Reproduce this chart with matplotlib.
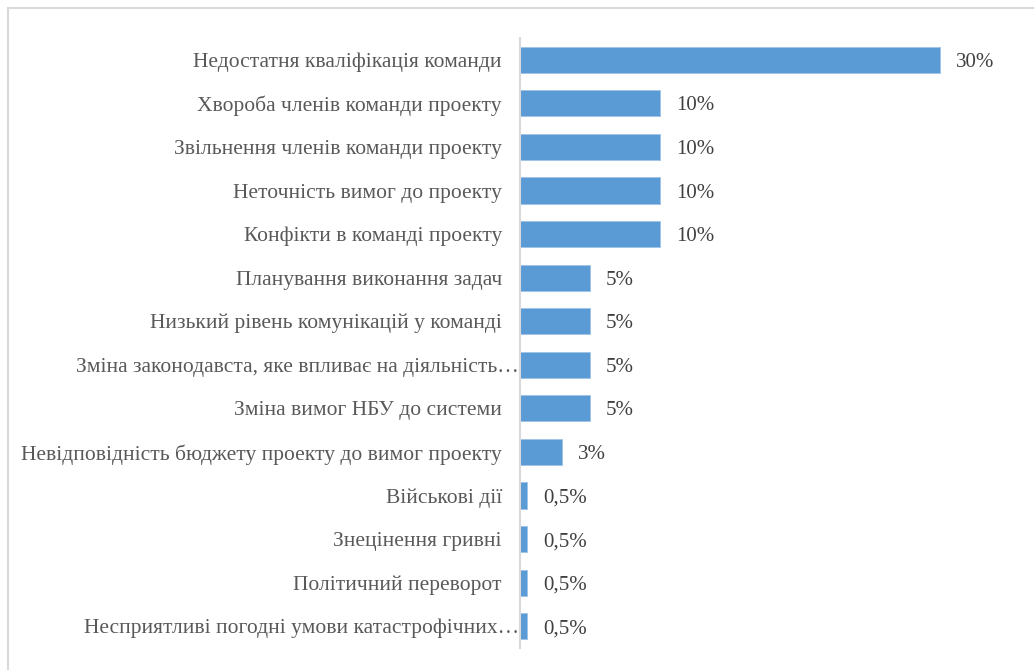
import matplotlib
matplotlib.use("Agg")
import matplotlib.pyplot as plt
from matplotlib.patches import Rectangle
from matplotlib.transforms import ScaledTranslation

categories = [
    "Недостатня кваліфікація команди",
    "Хвороба членів команди проекту",
    "Звільнення членів команди проекту",
    "Неточність вимог до проекту",
    "Конфікти в команді проекту",
    "Планування виконання задач",
    "Низький рівень комунікацій у команді",
    "Зміна законодавста, яке впливає на діяльність…",
    "Зміна вимог НБУ до системи",
    "Невідповідність бюджету проекту до вимог проекту",
    "Військові дії",
    "Знецінення гривні",
    "Політичний переворот",
    "Несприятливі погодні умови катастрофічних…",
]
values = [30, 10, 10, 10, 10, 5, 5, 5, 5, 3, 0.5, 0.5, 0.5, 0.5]
value_labels = ["30%", "10%", "10%", "10%", "10%", "5%", "5%", "5%", "5%", "3%",
                "0,5%", "0,5%", "0,5%", "0,5%"]

W, H = 1034, 670
fig = plt.figure(figsize=(W / 100, H / 100), dpi=100)
plt.rcParams["font.family"] = ["Liberation Serif", "DejaVu Serif"]

# outer frame
fig.patches.append(Rectangle((8 / W, -0.1), 1.2, (H - 8) / H + 0.1,
                             transform=fig.transFigure, fill=False,
                             edgecolor="#d9d9d9", linewidth=1.5))

ax = fig.add_axes([520 / W, 22 / H, 490 / W, 610 / H])
pos = list(range(len(categories)))
ax.barh(pos, values, height=0.6, color="#5b9bd5", edgecolor="#9dc3e6", linewidth=0.6)
ax.set_ylim(len(categories) - 0.5, -0.5)
ax.set_xlim(0, 35)
ax.set_yticks(pos)
ax.set_yticklabels(categories, fontsize=15.5, color="#595959")
ax.tick_params(axis="y", length=0, pad=13)
ax.set_xticks([])
for s in ["top", "right", "bottom"]:
    ax.spines[s].set_visible(False)
ax.spines["left"].set_color("#d9d9d9")
ax.spines["left"].set_linewidth(1.5)

# truncated labels run up to the axis line
shift = ScaledTranslation(17 / 100, 0, fig.dpi_scale_trans)
for lbl in ax.get_yticklabels():
    if lbl.get_text().endswith("…"):
        lbl.set_transform(lbl.get_transform() + shift)

for p, v, lab in zip(pos, values, value_labels):
    ax.annotate(lab, (v, p), xytext=(11.5, 0), textcoords="offset points",
                ha="left", va="center_baseline", fontsize=15, color="#404040")

fig.savefig("out.png", dpi=100)
